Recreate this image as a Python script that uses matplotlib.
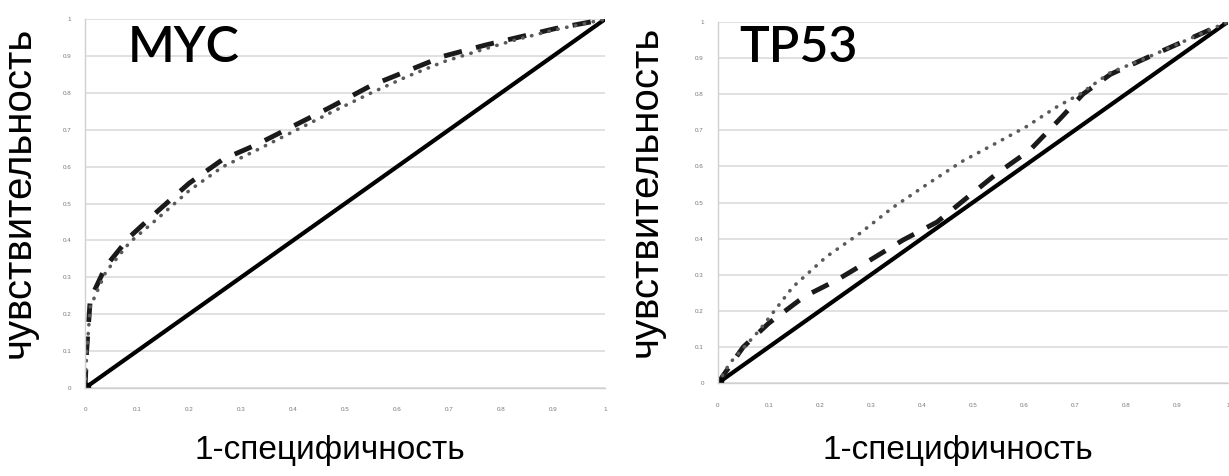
import numpy as np
import matplotlib.pyplot as plt

# Данные ROC-кривых
myc_dash_x = [0, 0.003, 0.01, 0.04, 0.086, 0.14, 0.20, 0.265, 0.33, 0.40, 0.47, 0.55, 0.62, 0.69, 0.77, 0.83, 0.905, 1]
myc_dash_y = [0, 0.10, 0.24, 0.33, 0.41, 0.48, 0.555, 0.62, 0.66, 0.71, 0.76, 0.82, 0.86, 0.90, 0.93, 0.95, 0.975, 1]
myc_dot_x = [0, 0.003, 0.01, 0.04, 0.086, 0.14, 0.20, 0.265, 0.33, 0.40, 0.47, 0.55, 0.62, 0.69, 0.77, 0.83, 0.905, 1]
myc_dot_y = [0, 0.09, 0.22, 0.315, 0.395, 0.46, 0.535, 0.60, 0.645, 0.695, 0.745, 0.80, 0.845, 0.885, 0.92, 0.945, 0.972, 1]

tp53_dash_x = [0, 0.05, 0.10, 0.17, 0.233, 0.298, 0.363, 0.43, 0.49, 0.547, 0.612, 0.67, 0.716, 0.77, 0.84, 0.92, 1]
tp53_dash_y = [0, 0.10, 0.166, 0.24, 0.285, 0.34, 0.396, 0.446, 0.515, 0.58, 0.645, 0.73, 0.80, 0.855, 0.90, 0.95, 1]
tp53_dot_x = [0, 0.024, 0.082, 0.147, 0.213, 0.278, 0.343, 0.41, 0.478, 0.54, 0.605, 0.665, 0.71, 0.77, 0.84, 0.92, 1]
tp53_dot_y = [0, 0.056, 0.147, 0.266, 0.35, 0.414, 0.486, 0.55, 0.613, 0.66, 0.71, 0.765, 0.80, 0.86, 0.90, 0.95, 1]

diag = [0, 1]
ticks = np.round(np.arange(0, 1.01, 0.1), 1)
tick_labels = ['0', '0.1', '0.2', '0.3', '0.4', '0.5', '0.6', '0.7', '0.8', '0.9', '1']

plt.rcParams['font.family'] = ['Liberation Sans', 'DejaVu Sans']

fig = plt.figure(figsize=(12.29, 4.76), dpi=100)
ax1 = fig.add_axes([0.0692, 0.185, 0.423, 0.7745])
ax2 = fig.add_axes([0.584, 0.195, 0.415, 0.759])

# (оси, заголовок, кривые, положение подписей)
panels = [
    (ax1, 'MYC', myc_dash_x, myc_dash_y, myc_dot_x, myc_dot_y, 0.083, 0.984, -0.092, -0.127),
    (ax2, 'TP53', tp53_dash_x, tp53_dash_y, tp53_dot_x, tp53_dot_y, 0.043, 0.991, -0.104, -0.143),
]

for ax, title, dx, dy, ox, oy, tx, ty, ylx, xly in panels:
    ax.plot(diag, diag, color='black', lw=3, solid_capstyle='butt')
    ax.plot(dx, dy, color='#1a1a1a', lw=3.5, dashes=(3.8, 3))
    ax.plot(ox, oy, color='#5a5a5a', lw=2.6, dashes=(0.1, 2.4), dash_capstyle='round')
    ax.plot([0], [0], marker='s', color='black', ms=7)

    ax.set_xlim(0, 1)
    ax.set_ylim(0, 1)
    ax.set_xticks(ticks)
    ax.set_xticklabels(tick_labels)
    ax.set_yticks(ticks)
    ax.set_yticklabels(tick_labels)
    ax.tick_params(labelsize=4.5, colors='#777777', length=0)
    ax.tick_params(axis='x', pad=14)
    ax.tick_params(axis='y', pad=10)
    ax.grid(axis='y', color='#dcdcdc', lw=1.2)
    ax.set_axisbelow(True)
    for s in ['top', 'right']:
        ax.spines[s].set_visible(False)
    for s in ['left', 'bottom']:
        ax.spines[s].set_color('#d0d0d0')
        ax.spines[s].set_linewidth(1)

    ax.text(tx, ty, title, transform=ax.transAxes, fontsize=36,
            family='Lato', fontweight='semibold', va='top', ha='left')
    ax.set_ylabel('чувствительность', fontsize=29)
    ax.yaxis.set_label_coords(ylx, 0.53)
    ax.set_xlabel('1-специфичность', fontsize=24)
    ax.xaxis.set_label_coords(0.47, xly)

plt.savefig('out.png', dpi=100)
